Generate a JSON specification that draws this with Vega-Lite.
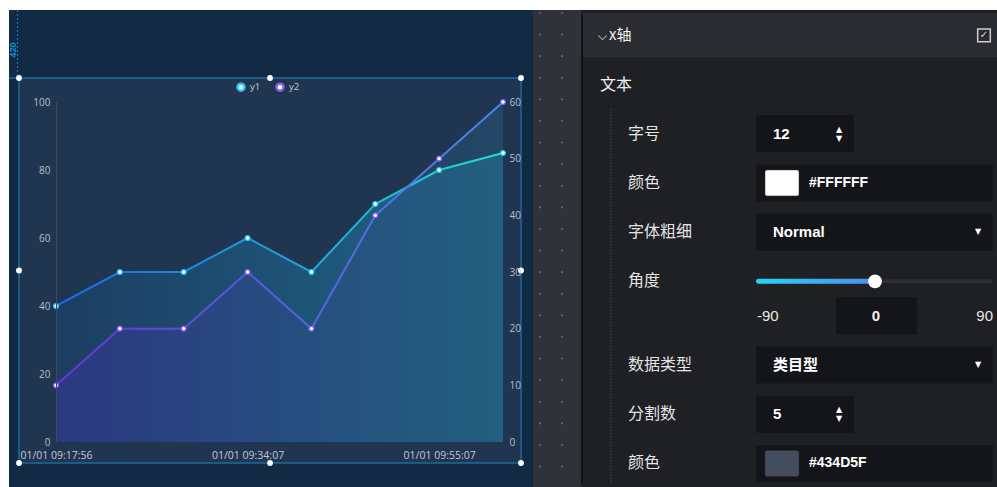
{
  "$schema": "https://vega.github.io/schema/vega-lite/v6.json",
  "background": "#ffffff",
  "padding": {"left": 8, "top": 9, "right": 0, "bottom": 0},
  "autosize": {"type": "pad"},
  "bounds": "flush",
  "spacing": 0,
  "config": {"view": {"stroke": null}, "concat": {"spacing": 0}},
  "datasets": {
    "series": [
      {"t": "01/01 09:17:56", "series": "y1", "v": 40},
      {"t": "01/01 09:22:41", "series": "y1", "v": 50},
      {"t": "01/01 09:28:19", "series": "y1", "v": 50},
      {"t": "01/01 09:34:07", "series": "y1", "v": 60},
      {"t": "01/01 09:40:52", "series": "y1", "v": 50},
      {"t": "01/01 09:47:33", "series": "y1", "v": 70},
      {"t": "01/01 09:55:07", "series": "y1", "v": 80},
      {"t": "01/01 10:01:26", "series": "y1", "v": 85},
      {"t": "01/01 09:17:56", "series": "y2", "v": 10},
      {"t": "01/01 09:22:41", "series": "y2", "v": 20},
      {"t": "01/01 09:28:19", "series": "y2", "v": 20},
      {"t": "01/01 09:34:07", "series": "y2", "v": 30},
      {"t": "01/01 09:40:52", "series": "y2", "v": 20},
      {"t": "01/01 09:47:33", "series": "y2", "v": 40},
      {"t": "01/01 09:55:07", "series": "y2", "v": 50},
      {"t": "01/01 10:01:26", "series": "y2", "v": 60}
    ],
    "handles": [
      {"fx": 0, "fy": 0}, {"fx": 0.5, "fy": 0}, {"fx": 1, "fy": 0},
      {"fx": 0, "fy": 0.5}, {"fx": 1, "fy": 0.5},
      {"fx": 0, "fy": 1}, {"fx": 0.5, "fy": 1}, {"fx": 1, "fy": 1}
    ],
    "form": [
      {"row": 1, "label": "字号", "widget": "spin", "value": "12"},
      {"row": 2, "label": "颜色", "widget": "color", "value": "#FFFFFF"},
      {"row": 3, "label": "字体粗细", "widget": "select", "value": "Normal"},
      {"row": 4, "label": "角度", "widget": "slider", "value": "0"},
      {"row": 5.7, "label": "数据类型", "widget": "select", "value": "类目型"},
      {"row": 6.7, "label": "分割数", "widget": "spin", "value": "5"},
      {"row": 7.7, "label": "颜色", "widget": "color", "value": "#434D5F"}
    ],
    "angle": [{"row": 4.7, "min": "-90", "value": "0", "max": "90"}],
    "dots": [
      {"c":0,"r":0},{"c":1,"r":0},{"c":0,"r":1},{"c":1,"r":1},{"c":0,"r":2},{"c":1,"r":2},
      {"c":0,"r":3},{"c":1,"r":3},{"c":0,"r":4},{"c":1,"r":4},{"c":0,"r":5},{"c":1,"r":5},
      {"c":0,"r":6},{"c":1,"r":6},{"c":0,"r":7},{"c":1,"r":7},{"c":0,"r":8},{"c":1,"r":8},
      {"c":0,"r":9},{"c":1,"r":9},{"c":0,"r":10},{"c":1,"r":10},{"c":0,"r":11},{"c":1,"r":11},
      {"c":0,"r":12},{"c":1,"r":12},{"c":0,"r":13},{"c":1,"r":13},{"c":0,"r":14},{"c":1,"r":14},
      {"c":0,"r":15},{"c":1,"r":15},{"c":0,"r":16},{"c":1,"r":16},{"c":0,"r":17},{"c":1,"r":17},
      {"c":0,"r":18},{"c":1,"r":18},{"c":0,"r":19},{"c":1,"r":19},{"c":0,"r":20},{"c":1,"r":20},
      {"c":0,"r":21},{"c":1,"r":21}
    ]
  },
  "hconcat": [
    {
      "width": 524,
      "height": 478,
      "view": {"fill": "#132a45", "stroke": null},
      "layer": [
        {
          "layer": [
            {
              "data": {"values": [{}]},
              "mark": {"type": "rect", "fill": "#203650", "stroke": "#1b6a9c", "strokeWidth": 1.5},
              "encoding": {
                "x": {"datum": 0, "type": "quantitative", "scale": {"domain": [0, 1], "range": [10, 512], "nice": false, "zero": false}, "axis": null},
                "x2": {"datum": 1},
                "y": {"datum": 0, "type": "quantitative", "scale": {"domain": [0, 1], "range": [68, 453], "nice": false, "zero": false}, "axis": null},
                "y2": {"datum": 1}
              }
            },
            {
              "data": {"values": [{}]},
              "mark": {"type": "rule", "stroke": "#1a7fc4", "strokeDash": [2, 2], "strokeWidth": 1},
              "encoding": {
                "x": {"datum": -0.003, "type": "quantitative", "scale": {"domain": [0, 1], "range": [10, 512], "nice": false, "zero": false}, "axis": null},
                "y": {"datum": -0.1766, "type": "quantitative", "scale": {"domain": [0, 1], "range": [68, 453], "nice": false, "zero": false}, "axis": null},
                "y2": {"datum": 0}
              }
            },
            {
              "data": {"values": [{}]},
              "mark": {"type": "rule", "stroke": "#1b6a9c", "strokeWidth": 1.5},
              "encoding": {
                "x": {"datum": -0.0199, "type": "quantitative", "scale": {"domain": [0, 1], "range": [10, 512], "nice": false, "zero": false}, "axis": null},
                "x2": {"datum": 0},
                "y": {"datum": 0, "type": "quantitative", "scale": {"domain": [0, 1], "range": [68, 453], "nice": false, "zero": false}, "axis": null}
              }
            },
            {
              "data": {"values": [{"label": "420"}]},
              "mark": {"type": "text", "angle": 270, "fontSize": 9, "fontWeight": "bold", "color": "#1a86cc", "font": "Open Sans", "align": "center", "baseline": "middle"},
              "encoding": {
                "x": {"datum": -0.012, "type": "quantitative", "scale": {"domain": [0, 1], "range": [10, 512], "nice": false, "zero": false}, "axis": null},
                "y": {"datum": -0.0727, "type": "quantitative", "scale": {"domain": [0, 1], "range": [68, 453], "nice": false, "zero": false}, "axis": null},
                "text": {"field": "label"}
              }
            },
            {
              "data": {"name": "handles"},
              "mark": {"type": "circle", "size": 34, "color": "#ffffff", "opacity": 1},
              "encoding": {
                "x": {"field": "fx", "type": "quantitative", "scale": {"domain": [0, 1], "range": [10, 512], "nice": false, "zero": false}, "axis": null},
                "y": {"field": "fy", "type": "quantitative", "scale": {"domain": [0, 1], "range": [68, 453], "nice": false, "zero": false}, "axis": null}
              }
            }
          ]
        },
        {
          "data": {"name": "series"},
          "encoding": {
            "x": {
              "field": "t", "type": "ordinal", "sort": null,
              "scale": {"type": "point", "range": [47, 494], "padding": 0},
              "axis": {"orient": "bottom", "offset": -46, "zindex": 1, "values": ["01/01 09:17:56", "01/01 09:34:07", "01/01 09:55:07"], "labelAngle": 0, "ticks": false, "domain": false, "grid": false, "title": null, "labelColor": "#c2c9d3", "labelFontSize": 10.5, "labelFont": "Open Sans", "labelPadding": 8}
            }
          },
          "layer": [
            {
              "transform": [{"filter": "datum.series == 'y1'"}],
              "mark": {"type": "area", "color": {"gradient": "linear", "x1": 0, "y1": 0, "x2": 1, "y2": 0, "stops": [{"offset": 0, "color": "#1d3d62"}, {"offset": 1, "color": "#1f6787"}]}},
              "encoding": {
                "y": {"field": "v", "type": "quantitative", "scale": {"domain": [0, 100], "range": [432, 92], "nice": false, "zero": false},
                      "axis": {"orient": "left", "offset": -47, "zindex": 1, "values": [0, 20, 40, 60, 80, 100], "ticks": false, "grid": false, "domain": true, "domainColor": "#3b4a5f", "labelColor": "#b7bfca", "labelFontSize": 10, "labelFont": "Open Sans", "labelPadding": 6, "title": null}}
              }
            },
            {
              "transform": [{"filter": "datum.series == 'y2'"}],
              "mark": {"type": "area", "opacity": 0.5, "color": {"gradient": "linear", "x1": 0, "y1": 0, "x2": 1, "y2": 0, "stops": [{"offset": 0, "color": "#3a34a0"}, {"offset": 1, "color": "#255977"}]}},
              "encoding": {
                "y": {"field": "v", "type": "quantitative", "scale": {"domain": [0, 60], "range": [432, 92], "nice": false, "zero": false},
                      "axis": {"orient": "right", "offset": -30, "zindex": 1, "values": [0, 10, 20, 30, 40, 50, 60], "ticks": false, "grid": false, "domain": false, "labelColor": "#b7bfca", "labelFontSize": 10, "labelFont": "Open Sans", "labelPadding": 6, "title": null}}
              }
            },
            {
              "transform": [{"filter": "datum.series == 'y1'"}],
              "mark": {"type": "line", "strokeWidth": 2, "stroke": {"gradient": "linear", "x1": 0, "y1": 0, "x2": 1, "y2": 0, "stops": [{"offset": 0, "color": "#1769e8"}, {"offset": 0.5, "color": "#1c9fdc"}, {"offset": 1, "color": "#20e0c8"}]}},
              "encoding": {
                "y": {"field": "v", "type": "quantitative", "scale": {"domain": [0, 100], "range": [432, 92], "nice": false, "zero": false}, "axis": null}
              }
            },
            {
              "transform": [{"filter": "datum.series == 'y2'"}],
              "mark": {"type": "line", "strokeWidth": 2, "stroke": {"gradient": "linear", "x1": 0, "y1": 0, "x2": 1, "y2": 0, "stops": [{"offset": 0, "color": "#6a33d6"}, {"offset": 1, "color": "#4a86ee"}]}},
              "encoding": {
                "y": {"field": "v", "type": "quantitative", "scale": {"domain": [0, 60], "range": [432, 92], "nice": false, "zero": false}, "axis": null}
              }
            },
            {
              "transform": [{"filter": "datum.series == 'y1'"}],
              "mark": {"type": "point", "filled": true, "fill": "#ffffff", "size": 22, "strokeWidth": 1.4, "opacity": 1},
              "encoding": {
                "y": {"field": "v", "type": "quantitative", "scale": {"domain": [0, 100], "range": [432, 92], "nice": false, "zero": false}, "axis": null},
                "stroke": {"field": "series", "type": "nominal", "scale": {"domain": ["y1", "y2"], "range": ["#2bc8ec", "#8a62f2"]},
                           "legend": {"orient": "none", "legendX": 227, "legendY": 72, "direction": "horizontal", "title": null, "symbolType": "circle", "symbolSize": 50, "symbolStrokeWidth": 2.5, "symbolFillColor": "#ffffff", "labelColor": "#c4cbd5", "labelFontSize": 9.5, "labelFont": "Open Sans", "columnPadding": 10, "labelOffset": 4, "padding": 0}}
              }
            },
            {
              "transform": [{"filter": "datum.series == 'y2'"}],
              "mark": {"type": "point", "filled": true, "fill": "#ffffff", "size": 22, "strokeWidth": 1.4, "opacity": 1},
              "encoding": {
                "y": {"field": "v", "type": "quantitative", "scale": {"domain": [0, 60], "range": [432, 92], "nice": false, "zero": false}, "axis": null},
                "stroke": {"field": "series", "type": "nominal", "scale": {"domain": ["y1", "y2"], "range": ["#2bc8ec", "#8a62f2"]},
                           "legend": {"orient": "none", "legendX": 227, "legendY": 72, "direction": "horizontal", "title": null, "symbolType": "circle", "symbolSize": 50, "symbolStrokeWidth": 2.5, "symbolFillColor": "#ffffff", "labelColor": "#c4cbd5", "labelFontSize": 9.5, "labelFont": "Open Sans", "columnPadding": 10, "labelOffset": 4, "padding": 0}}
              }
            }
          ],
          "resolve": {"scale": {"y": "independent"}}
        }
      ],
      "resolve": {"scale": {"x": "independent", "y": "independent"}}
    },
    {
      "width": 48,
      "height": 478,
      "view": {"fill": "#2f3238", "stroke": null},
      "data": {"name": "dots"},
      "mark": {"type": "circle", "size": 5, "color": "#60656e", "opacity": 1},
      "encoding": {
        "x": {"field": "c", "type": "quantitative", "scale": {"domain": [0, 1], "range": [7, 29], "nice": false, "zero": false}, "axis": null},
        "y": {"field": "r", "type": "quantitative", "scale": {"domain": [0, 21], "range": [3, 456.6], "nice": false, "zero": false}, "axis": null}
      }
    },
    {
      "width": 417,
      "height": 478,
      "view": {"fill": "#1f2024", "stroke": null},
      "layer": [
        {
          "data": {"values": [{"row": -1}]},
          "mark": {"type": "bar", "orient": "horizontal", "height": 44, "color": "#2a2c31"},
          "encoding": {
            "x": {"datum": 582, "type": "quantitative", "scale": {"domain": [580, 997], "range": [0, 417], "nice": false, "zero": false}, "axis": null},
            "x2": {"datum": 997},
            "y": {"field": "row", "type": "quantitative", "scale": {"domain": [-1.41265, 8.09789], "range": [0, 478], "nice": false, "zero": false}, "axis": null}
          }
        },
        {
          "data": {"values": [{}]},
          "mark": {"type": "rule", "stroke": "#101113", "strokeWidth": 2},
          "encoding": {
            "x": {"datum": 581, "type": "quantitative", "scale": {"domain": [580, 997], "range": [0, 417], "nice": false, "zero": false}, "axis": null},
            "y": {"datum": -1.41265, "type": "quantitative", "scale": {"domain": [-1.41265, 8.09789], "range": [0, 478], "nice": false, "zero": false}, "axis": null},
            "y2": {"datum": 8.09789}
          }
        },
        {
          "data": {"values": [{"row": -1, "label": "x轴"}]},
          "mark": {"type": "text", "align": "left", "baseline": "middle", "fontSize": 15, "color": "#f2f2f2", "font": "Noto Sans CJK SC"},
          "encoding": {
            "x": {"datum": 608, "type": "quantitative", "scale": {"domain": [580, 997], "range": [0, 417], "nice": false, "zero": false}, "axis": null},
            "y": {"field": "row", "type": "quantitative", "scale": {"domain": [-1.41265, 8.09789], "range": [0, 478], "nice": false, "zero": false}, "axis": null},
            "text": {"field": "label"}
          }
        },
        {
          "data": {"values": [{"row": -1}]},
          "mark": {"type": "text", "align": "center", "baseline": "middle", "fontSize": 12, "dy": 1, "color": "#e0e0e0", "font": "DejaVu Sans", "text": "⌵"},
          "encoding": {
            "x": {"datum": 601, "type": "quantitative", "scale": {"domain": [580, 997], "range": [0, 417], "nice": false, "zero": false}, "axis": null},
            "y": {"field": "row", "type": "quantitative", "scale": {"domain": [-1.41265, 8.09789], "range": [0, 478], "nice": false, "zero": false}, "axis": null}
          }
        },
        {
          "data": {"values": [{"row": -1}]},
          "mark": {"type": "point", "shape": "square", "filled": false, "size": 160, "stroke": "#cfcfcf", "strokeWidth": 1.5, "opacity": 1},
          "encoding": {
            "x": {"datum": 983, "type": "quantitative", "scale": {"domain": [580, 997], "range": [0, 417], "nice": false, "zero": false}, "axis": null},
            "y": {"field": "row", "type": "quantitative", "scale": {"domain": [-1.41265, 8.09789], "range": [0, 478], "nice": false, "zero": false}, "axis": null}
          }
        },
        {
          "data": {"values": [{"row": -1}]},
          "mark": {"type": "text", "align": "center", "baseline": "middle", "fontSize": 10, "color": "#d8d8d8", "font": "DejaVu Sans", "text": "✓"},
          "encoding": {
            "x": {"datum": 983, "type": "quantitative", "scale": {"domain": [580, 997], "range": [0, 417], "nice": false, "zero": false}, "axis": null},
            "y": {"field": "row", "type": "quantitative", "scale": {"domain": [-1.41265, 8.09789], "range": [0, 478], "nice": false, "zero": false}, "axis": null}
          }
        },
        {
          "data": {"values": [{"row": 0, "label": "文本"}]},
          "mark": {"type": "text", "align": "left", "baseline": "middle", "fontSize": 16, "color": "#eeeeee", "font": "Noto Sans CJK SC"},
          "encoding": {
            "x": {"datum": 599, "type": "quantitative", "scale": {"domain": [580, 997], "range": [0, 417], "nice": false, "zero": false}, "axis": null},
            "y": {"field": "row", "type": "quantitative", "scale": {"domain": [-1.41265, 8.09789], "range": [0, 478], "nice": false, "zero": false}, "axis": null},
            "text": {"field": "label"}
          }
        },
        {
          "data": {"values": [{}]},
          "mark": {"type": "rule", "stroke": "#5a5d63", "strokeDash": [1, 2], "strokeWidth": 1},
          "encoding": {
            "x": {"datum": 610, "type": "quantitative", "scale": {"domain": [580, 997], "range": [0, 417], "nice": false, "zero": false}, "axis": null},
            "y": {"datum": 0.5, "type": "quantitative", "scale": {"domain": [-1.41265, 8.09789], "range": [0, 478], "nice": false, "zero": false}, "axis": null},
            "y2": {"datum": 8.09789}
          }
        },
        {
          "data": {"name": "form"},
          "mark": {"type": "text", "align": "left", "baseline": "middle", "fontSize": 16, "color": "#e4e4e4", "font": "Noto Sans CJK SC"},
          "encoding": {
            "x": {"datum": 627, "type": "quantitative", "scale": {"domain": [580, 997], "range": [0, 417], "nice": false, "zero": false}, "axis": null},
            "y": {"field": "row", "type": "quantitative", "scale": {"domain": [-1.41265, 8.09789], "range": [0, 478], "nice": false, "zero": false}, "axis": null},
            "text": {"field": "label"}
          }
        },
        {
          "data": {"name": "form"},
          "transform": [{"filter": "datum.widget == 'color' || datum.widget == 'select'"}],
          "mark": {"type": "bar", "orient": "horizontal", "height": 37, "color": "#141518"},
          "encoding": {
            "x": {"datum": 755, "type": "quantitative", "scale": {"domain": [580, 997], "range": [0, 417], "nice": false, "zero": false}, "axis": null},
            "x2": {"datum": 992},
            "y": {"field": "row", "type": "quantitative", "scale": {"domain": [-1.41265, 8.09789], "range": [0, 478], "nice": false, "zero": false}, "axis": null}
          }
        },
        {
          "data": {"name": "form"},
          "transform": [{"filter": "datum.widget == 'spin'"}],
          "mark": {"type": "bar", "orient": "horizontal", "height": 37, "color": "#141518"},
          "encoding": {
            "x": {"datum": 755, "type": "quantitative", "scale": {"domain": [580, 997], "range": [0, 417], "nice": false, "zero": false}, "axis": null},
            "x2": {"datum": 853},
            "y": {"field": "row", "type": "quantitative", "scale": {"domain": [-1.41265, 8.09789], "range": [0, 478], "nice": false, "zero": false}, "axis": null}
          }
        },
        {
          "data": {"name": "angle"},
          "mark": {"type": "bar", "orient": "horizontal", "height": 37, "color": "#141518"},
          "encoding": {
            "x": {"datum": 835, "type": "quantitative", "scale": {"domain": [580, 997], "range": [0, 417], "nice": false, "zero": false}, "axis": null},
            "x2": {"datum": 916},
            "y": {"field": "row", "type": "quantitative", "scale": {"domain": [-1.41265, 8.09789], "range": [0, 478], "nice": false, "zero": false}, "axis": null}
          }
        },
        {
          "data": {"name": "form"},
          "transform": [{"filter": "datum.widget == 'slider'"}],
          "mark": {"type": "bar", "orient": "horizontal", "height": 4, "color": "#2c2e34", "cornerRadius": 2},
          "encoding": {
            "x": {"datum": 755, "type": "quantitative", "scale": {"domain": [580, 997], "range": [0, 417], "nice": false, "zero": false}, "axis": null},
            "x2": {"datum": 992},
            "y": {"field": "row", "type": "quantitative", "scale": {"domain": [-1.41265, 8.09789], "range": [0, 478], "nice": false, "zero": false}, "axis": null}
          }
        },
        {
          "data": {"name": "form"},
          "transform": [{"filter": "datum.widget == 'slider'"}],
          "mark": {"type": "bar", "orient": "horizontal", "height": 5, "cornerRadius": 2.5, "color": {"gradient": "linear", "x1": 0, "y1": 0, "x2": 1, "y2": 0, "stops": [{"offset": 0, "color": "#2ad2f2"}, {"offset": 1, "color": "#4a8ef0"}]}},
          "encoding": {
            "x": {"datum": 755, "type": "quantitative", "scale": {"domain": [580, 997], "range": [0, 417], "nice": false, "zero": false}, "axis": null},
            "x2": {"datum": 874},
            "y": {"field": "row", "type": "quantitative", "scale": {"domain": [-1.41265, 8.09789], "range": [0, 478], "nice": false, "zero": false}, "axis": null}
          }
        },
        {
          "data": {"name": "form"},
          "transform": [{"filter": "datum.widget == 'slider'"}],
          "mark": {"type": "circle", "size": 190, "color": "#ffffff", "opacity": 1},
          "encoding": {
            "x": {"datum": 874, "type": "quantitative", "scale": {"domain": [580, 997], "range": [0, 417], "nice": false, "zero": false}, "axis": null},
            "y": {"field": "row", "type": "quantitative", "scale": {"domain": [-1.41265, 8.09789], "range": [0, 478], "nice": false, "zero": false}, "axis": null}
          }
        },
        {
          "data": {"name": "form"},
          "transform": [{"filter": "datum.widget == 'spin' || datum.widget == 'select'"}],
          "mark": {"type": "text", "align": "left", "baseline": "middle", "fontSize": 15, "fontWeight": "bold", "color": "#ffffff", "font": "Liberation Sans, Noto Sans CJK SC"},
          "encoding": {
            "x": {"datum": 772, "type": "quantitative", "scale": {"domain": [580, 997], "range": [0, 417], "nice": false, "zero": false}, "axis": null},
            "y": {"field": "row", "type": "quantitative", "scale": {"domain": [-1.41265, 8.09789], "range": [0, 478], "nice": false, "zero": false}, "axis": null},
            "text": {"field": "value"}
          }
        },
        {
          "data": {"name": "form"},
          "transform": [{"filter": "datum.widget == 'color'"}],
          "mark": {"type": "bar", "orient": "horizontal", "height": 26, "cornerRadius": 2, "stroke": "#2a2c30", "strokeWidth": 0.5},
          "encoding": {
            "x": {"datum": 764, "type": "quantitative", "scale": {"domain": [580, 997], "range": [0, 417], "nice": false, "zero": false}, "axis": null},
            "x2": {"datum": 798},
            "y": {"field": "row", "type": "quantitative", "scale": {"domain": [-1.41265, 8.09789], "range": [0, 478], "nice": false, "zero": false}, "axis": null},
            "fill": {"field": "value", "type": "nominal", "scale": null, "legend": null}
          }
        },
        {
          "data": {"name": "form"},
          "transform": [{"filter": "datum.widget == 'color'"}],
          "mark": {"type": "text", "align": "left", "baseline": "middle", "fontSize": 14, "fontWeight": "bold", "color": "#ffffff", "font": "Liberation Sans"},
          "encoding": {
            "x": {"datum": 808, "type": "quantitative", "scale": {"domain": [580, 997], "range": [0, 417], "nice": false, "zero": false}, "axis": null},
            "y": {"field": "row", "type": "quantitative", "scale": {"domain": [-1.41265, 8.09789], "range": [0, 478], "nice": false, "zero": false}, "axis": null},
            "text": {"field": "value"}
          }
        },
        {
          "data": {"name": "form"},
          "transform": [{"filter": "datum.widget == 'spin'"}],
          "mark": {"type": "text", "align": "center", "baseline": "middle", "fontSize": 8, "dy": -4, "color": "#ffffff", "font": "DejaVu Sans", "text": "▲"},
          "encoding": {
            "x": {"datum": 838, "type": "quantitative", "scale": {"domain": [580, 997], "range": [0, 417], "nice": false, "zero": false}, "axis": null},
            "y": {"field": "row", "type": "quantitative", "scale": {"domain": [-1.41265, 8.09789], "range": [0, 478], "nice": false, "zero": false}, "axis": null}
          }
        },
        {
          "data": {"name": "form"},
          "transform": [{"filter": "datum.widget == 'spin'"}],
          "mark": {"type": "text", "align": "center", "baseline": "middle", "fontSize": 8, "dy": 5, "color": "#ffffff", "font": "DejaVu Sans", "text": "▼"},
          "encoding": {
            "x": {"datum": 838, "type": "quantitative", "scale": {"domain": [580, 997], "range": [0, 417], "nice": false, "zero": false}, "axis": null},
            "y": {"field": "row", "type": "quantitative", "scale": {"domain": [-1.41265, 8.09789], "range": [0, 478], "nice": false, "zero": false}, "axis": null}
          }
        },
        {
          "data": {"name": "form"},
          "transform": [{"filter": "datum.widget == 'select'"}],
          "mark": {"type": "text", "align": "center", "baseline": "middle", "fontSize": 8, "color": "#ffffff", "font": "DejaVu Sans", "text": "▼"},
          "encoding": {
            "x": {"datum": 977, "type": "quantitative", "scale": {"domain": [580, 997], "range": [0, 417], "nice": false, "zero": false}, "axis": null},
            "y": {"field": "row", "type": "quantitative", "scale": {"domain": [-1.41265, 8.09789], "range": [0, 478], "nice": false, "zero": false}, "axis": null}
          }
        },
        {
          "data": {"name": "angle"},
          "mark": {"type": "text", "align": "left", "baseline": "middle", "fontSize": 15, "color": "#e8e8e8", "font": "Liberation Sans"},
          "encoding": {
            "x": {"datum": 756, "type": "quantitative", "scale": {"domain": [580, 997], "range": [0, 417], "nice": false, "zero": false}, "axis": null},
            "y": {"field": "row", "type": "quantitative", "scale": {"domain": [-1.41265, 8.09789], "range": [0, 478], "nice": false, "zero": false}, "axis": null},
            "text": {"field": "min"}
          }
        },
        {
          "data": {"name": "angle"},
          "mark": {"type": "text", "align": "center", "baseline": "middle", "fontSize": 15, "fontWeight": "bold", "color": "#f0f0f0", "font": "Liberation Sans"},
          "encoding": {
            "x": {"datum": 875, "type": "quantitative", "scale": {"domain": [580, 997], "range": [0, 417], "nice": false, "zero": false}, "axis": null},
            "y": {"field": "row", "type": "quantitative", "scale": {"domain": [-1.41265, 8.09789], "range": [0, 478], "nice": false, "zero": false}, "axis": null},
            "text": {"field": "value"}
          }
        },
        {
          "data": {"name": "angle"},
          "mark": {"type": "text", "align": "right", "baseline": "middle", "fontSize": 15, "color": "#e8e8e8", "font": "Liberation Sans"},
          "encoding": {
            "x": {"datum": 992, "type": "quantitative", "scale": {"domain": [580, 997], "range": [0, 417], "nice": false, "zero": false}, "axis": null},
            "y": {"field": "row", "type": "quantitative", "scale": {"domain": [-1.41265, 8.09789], "range": [0, 478], "nice": false, "zero": false}, "axis": null},
            "text": {"field": "max"}
          }
        }
      ]
    }
  ]
}
